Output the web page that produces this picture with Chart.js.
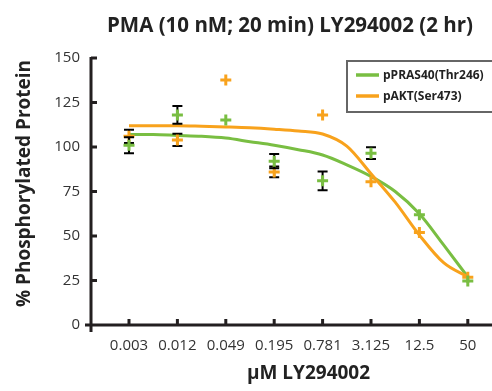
<!DOCTYPE html>
<html>
<head>
<meta charset="utf-8">
<script src="https://cdn.jsdelivr.net/npm/chart.js@4.4.1/dist/chart.umd.min.js"></script>
<style>
  html, body { margin: 0; padding: 0; background: #fff; }
  #wrap { width: 492px; height: 391px; }
  canvas { display: block; }
</style>
</head>
<body>
<div id="wrap"><canvas id="chart" width="492" height="391"></canvas></div>
<script>
// LY294002 dose (µM) on the x axis
const doses = ['0.003', '0.012', '0.049', '0.195', '0.781', '3.125', '12.5', '50'];
const yTickValues = [0, 25, 50, 75, 100, 125, 150];

// Measured phosphorylation (% of control) and their error (±)
const prasPoints = [101, 118, 115.2, 92, 81, 96.5, 62, 24.7];
const prasErrors = [4.5, 5, 0, 4, 5.3, 3.3, 0, 0];
const aktPoints  = [106, 104, 137.6, 86, 118, 80.5, 52, 26.8];
const aktErrors  = [3.7, 3.5, 0, 3, 0, 0, 0, 0];

// Fitted dose-response curves, sampled every half dilution step
const fitSteps = [0, 0.5, 1, 1.5, 2, 2.5, 3, 3.5, 4, 4.5, 5, 5.5, 6, 6.5, 7];
const prasFit  = [107, 107, 106.5, 106, 105, 103, 101, 98.5, 95.5, 90, 83.5, 75, 62.5, 45, 27];
const aktFit   = [112, 112, 112, 111.7, 111.3, 110.8, 110, 109, 107.3, 100.5, 85, 69, 50.5, 35, 27];

const seriesNames = ['pPRAS40(Thr246)', 'pAKT(Ser473)'];
const chartTitle = 'PMA (10 nM; 20 min) LY294002 (2 hr)';
const xTitle = 'µM LY294002';
const yTitle = '% Phosphorylated Protein';

const GREEN = '#79BE42';
const ORANGE = '#F8A21C';
const INK = '#231F20';
const FONT = "'Open Sans', 'DejaVu Sans', sans-serif";

const toXY = arr => arr.map((v, i) => ({ x: i, y: v }));
const fitXY = arr => arr.map((v, i) => ({ x: fitSteps[i], y: v }));

// Axis lines, inward tick marks, titles, legend and error bars
const decor = {
  id: 'decor',
  beforeDatasetDraw(chart, args) {
    const ds = chart.data.datasets[args.index];
    if (!ds.errors) return;
    const { ctx } = chart;
    const xs = chart.scales.x, ys = chart.scales.y;
    ctx.save();
    ctx.strokeStyle = '#000';
    ctx.lineWidth = 2;
    ds.data.forEach((p, i) => {
      const e = ds.errors[i];
      if (!e) return;
      const px = xs.getPixelForValue(p.x);
      const top = ys.getPixelForValue(p.y + e);
      const bot = ys.getPixelForValue(p.y - e);
      ctx.beginPath();
      ctx.moveTo(px, top); ctx.lineTo(px, bot);
      ctx.moveTo(px - 5, top); ctx.lineTo(px + 5, top);
      ctx.moveTo(px - 5, bot); ctx.lineTo(px + 5, bot);
      ctx.stroke();
    });
    ctx.restore();
  },
  afterDatasetsDraw(chart) {
    const { ctx, chartArea: a } = chart;
    const xs = chart.scales.x, ys = chart.scales.y;
    ctx.save();
    ctx.strokeStyle = INK;
    ctx.lineWidth = 3;
    ctx.lineCap = 'butt';
    ctx.beginPath();
    ctx.moveTo(a.left, a.top - 1); ctx.lineTo(a.left, a.bottom + 7);
    ctx.moveTo(a.left - 6, a.bottom); ctx.lineTo(a.right, a.bottom);
    yTickValues.forEach(v => {
      const py = ys.getPixelForValue(v);
      ctx.moveTo(a.left, py); ctx.lineTo(a.left + 6, py);
    });
    doses.forEach((d, i) => {
      const px = xs.getPixelForValue(i);
      ctx.moveTo(px, a.bottom); ctx.lineTo(px, a.bottom - 6);
    });
    ctx.stroke();
    ctx.restore();
  },
  afterDraw(chart) {
    const { ctx } = chart;
    ctx.save();
    ctx.fillStyle = '#222';
    // chart title
    ctx.font = `bold 20.5px ${FONT}`;
    ctx.textAlign = 'center';
    ctx.textBaseline = 'alphabetic';
    ctx.fillText(chartTitle, 290, 32);
    // x axis title
    ctx.font = `bold 19px ${FONT}`;
    ctx.fillText(xTitle, 308.5, 378.5);
    // y axis title
    ctx.save();
    ctx.translate(29.5, 183.5);
    ctx.rotate(-Math.PI / 2);
    ctx.fillText(yTitle, 0, 0);
    ctx.restore();

    // legend
    const bx = 347, by = 61, bw = 150, bh = 51;
    ctx.fillStyle = '#fff';
    ctx.fillRect(bx, by, bw, bh);
    ctx.strokeStyle = '#666';
    ctx.lineWidth = 2;
    ctx.strokeRect(bx, by, bw, bh);
    const legendSets = chart.data.datasets.filter(d => d.legendRow !== undefined)
      .sort((p, q) => p.legendRow - q.legendRow);
    ctx.font = `bold 12px ${FONT}`;
    ctx.textAlign = 'left';
    ctx.textBaseline = 'middle';
    legendSets.forEach((d, k) => {
      const ly = 75 + k * 21;
      ctx.strokeStyle = d.borderColor;
      ctx.lineWidth = 3.5;
      ctx.beginPath();
      ctx.moveTo(356, ly); ctx.lineTo(379, ly);
      ctx.stroke();
      ctx.fillStyle = '#222';
      ctx.fillText(d.label, 383, ly + 0.5);
    });
    ctx.restore();
  }
};

new Chart(document.getElementById('chart'), {
  type: 'scatter',
  data: {
    datasets: [
      {
        label: seriesNames[0] + ' points',
        data: toXY(prasPoints),
        errors: prasErrors,
        pointStyle: 'cross',
        pointRadius: 5.5,
        pointBorderWidth: 3,
        borderColor: GREEN,
        backgroundColor: GREEN,
        order: 0
      },
      {
        label: seriesNames[1] + ' points',
        data: toXY(aktPoints),
        errors: aktErrors,
        pointStyle: 'cross',
        pointRadius: 5.5,
        pointBorderWidth: 3,
        borderColor: ORANGE,
        backgroundColor: ORANGE,
        order: 1
      },
      {
        label: seriesNames[1],
        legendRow: 1,
        data: fitXY(aktFit),
        showLine: true,
        cubicInterpolationMode: 'monotone',
        pointRadius: 0,
        borderWidth: 3,
        borderColor: ORANGE,
        backgroundColor: ORANGE,
        order: 2
      },
      {
        label: seriesNames[0],
        legendRow: 0,
        data: fitXY(prasFit),
        showLine: true,
        cubicInterpolationMode: 'monotone',
        pointRadius: 0,
        borderWidth: 3,
        borderColor: GREEN,
        backgroundColor: GREEN,
        order: 3
      }
    ]
  },
  options: {
    responsive: false,
    animation: false,
    layout: { autoPadding: false, padding: { top: 58, left: 0, right: 0, bottom: 0 } },
    plugins: {
      legend: { display: false },
      title: { display: false },
      tooltip: { enabled: false }
    },
    scales: {
      x: {
        type: 'linear',
        min: -0.785,
        max: 7.5,
        grid: { display: false, drawTicks: false },
        border: { display: false },
        afterBuildTicks: s => { s.ticks = doses.map((d, i) => ({ value: i })); },
        afterFit: s => { s.height = 66; s.paddingLeft = 0; s.paddingRight = 0; },
        ticks: {
          autoSkip: false,
          maxRotation: 0,
          padding: 12,
          color: '#333',
          font: { family: FONT, size: 15 },
          callback: v => doses[v]
        }
      },
      y: {
        type: 'linear',
        min: 0,
        max: 150,
        grid: { display: false, drawTicks: false },
        border: { display: false },
        afterBuildTicks: s => { s.ticks = yTickValues.map(v => ({ value: v })); },
        afterFit: s => { s.width = 91; s.paddingTop = 0; s.paddingBottom = 0; },
        ticks: {
          padding: 11,
          color: '#333',
          font: { family: FONT, size: 15 }
        }
      }
    }
  },
  plugins: [decor]
});
</script>
</body>
</html>
